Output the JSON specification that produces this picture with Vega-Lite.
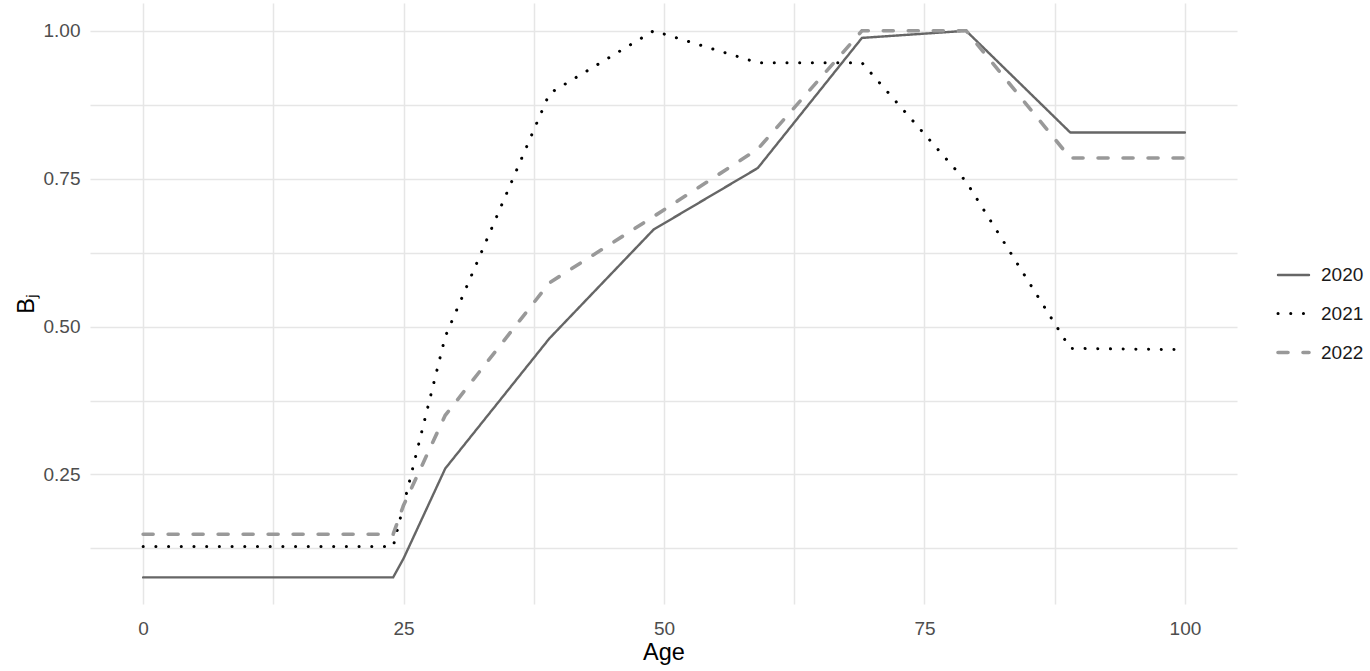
{
  "$schema": "https://vega.github.io/schema/vega-lite/v6.json",
  "description": "B_j by age for 2020, 2021 and 2022",
  "autosize": {"type": "none"},
  "padding": {"left": 90, "top": 3, "right": 133, "bottom": 67},
  "width": 1147,
  "height": 601,
  "background": "white",
  "config": {
    "font": "Liberation Sans",
    "view": {"stroke": null},
    "axis": {"grid": true, "gridColor": "#e6e6e6", "gridWidth": 1.5, "domain": false, "ticks": false}
  },
  "data": {
    "values": [
      {"year": "2020", "age": 0, "b": 0.076},
      {"year": "2020", "age": 24, "b": 0.076},
      {"year": "2020", "age": 25, "b": 0.108},
      {"year": "2020", "age": 29, "b": 0.26},
      {"year": "2020", "age": 39, "b": 0.48},
      {"year": "2020", "age": 49, "b": 0.664},
      {"year": "2020", "age": 59, "b": 0.768},
      {"year": "2020", "age": 69, "b": 0.988},
      {"year": "2020", "age": 79, "b": 1.0},
      {"year": "2020", "age": 89, "b": 0.828},
      {"year": "2020", "age": 100, "b": 0.828},
      {"year": "2021", "age": 0, "b": 0.128},
      {"year": "2021", "age": 24, "b": 0.128},
      {"year": "2021", "age": 25, "b": 0.198},
      {"year": "2021", "age": 29, "b": 0.483},
      {"year": "2021", "age": 39, "b": 0.894},
      {"year": "2021", "age": 49, "b": 1.0},
      {"year": "2021", "age": 59, "b": 0.946},
      {"year": "2021", "age": 69, "b": 0.946},
      {"year": "2021", "age": 79, "b": 0.745},
      {"year": "2021", "age": 89, "b": 0.463},
      {"year": "2021", "age": 100, "b": 0.461},
      {"year": "2022", "age": 0, "b": 0.149},
      {"year": "2022", "age": 24, "b": 0.149},
      {"year": "2022", "age": 25, "b": 0.198},
      {"year": "2022", "age": 29, "b": 0.35},
      {"year": "2022", "age": 39, "b": 0.574},
      {"year": "2022", "age": 49, "b": 0.686},
      {"year": "2022", "age": 59, "b": 0.8},
      {"year": "2022", "age": 69, "b": 1.0},
      {"year": "2022", "age": 79, "b": 1.0},
      {"year": "2022", "age": 89, "b": 0.785},
      {"year": "2022", "age": 100, "b": 0.785}
    ]
  },
  "mark": {"type": "line", "strokeCap": "round", "clip": true},
  "encoding": {
    "x": {
      "field": "age",
      "type": "quantitative",
      "scale": {"domain": [-5.1, 105], "nice": false, "zero": false},
      "axis": {
        "title": "Age",
        "values": [0, 12.5, 25, 37.5, 50, 62.5, 75, 87.5, 100],
        "labelExpr": "datum.value % 25 == 0 ? datum.label : ''",
        "labelFontSize": 19,
        "labelColor": "#4d4d4d",
        "labelPadding": 15,
        "titleFontSize": 23.5,
        "titleFontWeight": "normal",
        "titleColor": "black",
        "titlePadding": 2
      }
    },
    "y": {
      "field": "b",
      "type": "quantitative",
      "scale": {"domain": [0.031, 1.047], "nice": false, "zero": false},
      "axis": {
        "title": "Bⱼ",
        "values": [0.125, 0.25, 0.375, 0.5, 0.625, 0.75, 0.875, 1.0],
        "format": ".2f",
        "labelExpr": "(datum.value * 4) % 1 == 0 ? datum.label : ''",
        "labelFontSize": 19,
        "labelColor": "#4d4d4d",
        "labelPadding": 10,
        "titleFontSize": 23.5,
        "titleFontWeight": "normal",
        "titleColor": "black",
        "titlePadding": 5
      }
    },
    "color": {
      "field": "year",
      "type": "nominal",
      "scale": {"domain": ["2020", "2021", "2022"], "range": ["#666666", "#000000", "#999999"]},
      "legend": {
        "title": null,
        "orient": "none",
        "legendX": 1186,
        "legendY": 255,
        "padding": 0,
        "symbolType": "stroke",
        "symbolSize": 961,
        "symbolStrokeWidth": 2.6,
        "labelFontSize": 19,
        "labelColor": "#1a1a1a",
        "labelOffset": 10,
        "rowPadding": 11.5,
        "encode": {"symbols": {"update": {"strokeCap": {"value": "round"}}}}
      }
    },
    "strokeDash": {
      "field": "year",
      "type": "nominal",
      "scale": {"domain": ["2020", "2021", "2022"], "range": [[1, 0], [0.1, 12.6], [10, 15]]},
      "legend": {
        "title": null,
        "orient": "none",
        "legendX": 1186,
        "legendY": 255,
        "padding": 0,
        "symbolType": "stroke",
        "symbolSize": 961,
        "symbolStrokeWidth": 2.6,
        "labelFontSize": 19,
        "labelColor": "#1a1a1a",
        "labelOffset": 10,
        "rowPadding": 11.5,
        "encode": {"symbols": {"update": {"strokeCap": {"value": "round"}}}}
      }
    },
    "strokeWidth": {
      "field": "year",
      "type": "nominal",
      "scale": {"domain": ["2020", "2021", "2022"], "range": [2.4, 3.6, 2.4]},
      "legend": null
    }
  }
}
